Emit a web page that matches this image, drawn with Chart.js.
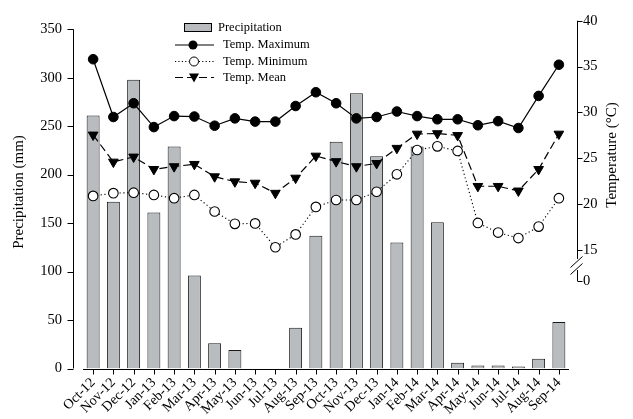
<!DOCTYPE html>
<html>
<head>
<meta charset="utf-8">
<script src="https://cdn.jsdelivr.net/npm/chart.js@4.4.1/dist/chart.umd.min.js"></script>
<style>
  html, body { margin: 0; padding: 0; background: #fff; }
  #wrap { width: 633px; height: 419px; }
</style>
</head>
<body>
<div id="wrap"><canvas id="c" width="633" height="419"></canvas></div>
<script>
// Monthly climate record, Oct 2012 - Sep 2014
const months = ['Oct-12','Nov-12','Dec-12','Jan-13','Feb-13','Mar-13','Apr-13','May-13','Jun-13','Jul-13','Aug-13','Sep-13',
                'Oct-13','Nov-13','Dec-13','Jan-14','Feb-14','Mar-14','Apr-14','May-14','Jun-14','Jul-14','Aug-14','Sep-14'];
const precipitation = [261,172,298,161,229,96,26,19,0,0,42,137,234,284,219,130,229,151,6,3,3,2,10,48];
const tempMax  = [35.8,29.5,31.0,28.4,29.6,29.55,28.55,29.35,29.0,29.0,30.7,32.2,31.0,29.35,29.5,30.1,29.6,29.25,29.25,28.6,29.05,28.3,31.8,35.2];
const tempMin  = [20.9,21.2,21.25,21.0,20.65,21.0,19.2,17.85,17.9,15.3,16.7,19.7,20.45,20.45,21.35,23.25,25.9,26.3,25.8,17.95,16.9,16.3,17.55,20.65];
const tempMean = [27.55,24.6,25.15,23.8,24.1,24.35,23.0,22.45,22.3,21.2,22.85,25.25,24.65,24.1,24.45,26.1,27.65,27.7,27.5,21.95,21.95,21.45,23.8,27.65];

// Axis tick values
const precipTicks = [0,50,100,150,200,250,300,350];
const tempTicks = [15,20,25,30,35,40];
const tempBreakTick = 11.62;   // position that carries the "0" label below the axis break

const FONT = '"Liberation Serif", "Times New Roman", serif';

// Keep the plot area exactly where the layout padding puts it
function noScalePadding(s) {
  s.paddingTop = 0; s.paddingBottom = 0; s.paddingLeft = 0; s.paddingRight = 0;
}

// Draws offset axis lines, tick marks, the axis break, axis titles and the legend
const framePlugin = {
  id: 'frame',
  afterDraw(chart) {
    const ctx = chart.ctx;
    const y = chart.scales.y, y2 = chart.scales.y2, x = chart.scales.x;
    const area = chart.chartArea;
    ctx.save();
    ctx.strokeStyle = '#000';
    ctx.lineWidth = 1;

    // left axis
    const lx = 73.5;
    ctx.beginPath();
    ctx.moveTo(lx, y.getPixelForValue(350));
    ctx.lineTo(lx, y.getPixelForValue(0));
    precipTicks.forEach(v => {
      const py = Math.round(y.getPixelForValue(v)) + 0.5;
      ctx.moveTo(lx - 6, py); ctx.lineTo(lx, py);
    });
    ctx.stroke();

    // bottom axis
    const by = Math.round(y.getPixelForValue(0)) + 0.5;
    ctx.beginPath();
    ctx.moveTo(area.left, by); ctx.lineTo(area.right, by);
    months.forEach((m, i) => {
      const px = Math.round(x.getPixelForValue(i)) + 0.5;
      ctx.moveTo(px, by); ctx.lineTo(px, by + 5);
    });
    ctx.stroke();

    // right axis with break
    const rx = 577.5;
    const top = y2.getPixelForValue(40);
    const p15 = y2.getPixelForValue(15);
    const p0 = y2.getPixelForValue(tempBreakTick);
    ctx.beginPath();
    ctx.moveTo(rx, top); ctx.lineTo(rx, p15 + 9);
    ctx.moveTo(rx, p0 - 11); ctx.lineTo(rx, p0);
    tempTicks.concat([tempBreakTick]).forEach(v => {
      const py = Math.round(y2.getPixelForValue(v)) + 0.5;
      ctx.moveTo(rx, py); ctx.lineTo(rx + 5, py);
    });
    // break slashes
    const mid = (p15 + p0) / 2;
    ctx.moveTo(rx - 7, mid + 2); ctx.lineTo(rx + 5, mid - 9);
    ctx.moveTo(rx - 7, mid + 9); ctx.lineTo(rx + 5, mid - 2);
    ctx.stroke();

    // axis titles
    ctx.fillStyle = '#000';
    ctx.font = '15px ' + FONT;
    ctx.textAlign = 'center';
    ctx.textBaseline = 'middle';
    ctx.save();
    ctx.translate(19, 192);
    ctx.rotate(-Math.PI / 2);
    ctx.fillText('Precipitation (mm)', 0, 0);
    ctx.restore();
    ctx.save();
    ctx.translate(612, 155);
    ctx.rotate(-Math.PI / 2);
    ctx.fillText('Temperature (\u00B0C)', 0, 0);
    ctx.restore();

    // legend
    ctx.font = '12.5px ' + FONT;
    ctx.textAlign = 'left';
    const rows = [27.5, 45, 61.5, 77.5];
    // precipitation swatch
    ctx.fillStyle = '#b9bcbe';
    ctx.fillRect(184.5, rows[0] - 4, 27, 8);
    ctx.strokeRect(184.5, rows[0] - 4, 27, 8);
    ctx.fillStyle = '#000';
    ctx.fillText('Precipitation', 218, rows[0]);
    // max
    ctx.beginPath(); ctx.moveTo(175, rows[1]); ctx.lineTo(214, rows[1]); ctx.stroke();
    ctx.beginPath(); ctx.arc(193, rows[1], 4.5, 0, Math.PI * 2); ctx.fill();
    ctx.fillText('Temp. Maximum', 223, rows[1]);
    // min
    ctx.setLineDash([1.2, 2.2]);
    ctx.beginPath(); ctx.moveTo(175, rows[2]); ctx.lineTo(214, rows[2]); ctx.stroke();
    ctx.setLineDash([]);
    ctx.beginPath(); ctx.arc(194, rows[2], 4.5, 0, Math.PI * 2);
    ctx.fillStyle = '#fff'; ctx.fill(); ctx.stroke();
    ctx.fillStyle = '#000';
    ctx.fillText('Temp. Minimum', 223, rows[2]);
    // mean
    ctx.setLineDash([8, 4]);
    ctx.beginPath(); ctx.moveTo(175, rows[3]); ctx.lineTo(214, rows[3]); ctx.stroke();
    ctx.setLineDash([]);
    ctx.beginPath();
    ctx.moveTo(189, rows[3] - 4); ctx.lineTo(199, rows[3] - 4); ctx.lineTo(194, rows[3] + 5); ctx.closePath();
    ctx.fill();
    ctx.fillText('Temp. Mean', 223, rows[3]);
    ctx.restore();
  }
};

new Chart(document.getElementById('c'), {
  data: {
    labels: months,
    datasets: [
      {
        type: 'line', label: 'Temp. Maximum', data: tempMax, yAxisID: 'y2', order: 1,
        borderColor: '#000', borderWidth: 1.2, tension: 0,
        pointStyle: 'circle', pointRadius: 4.8, pointBackgroundColor: '#000', pointBorderColor: '#000', pointBorderWidth: 1
      },
      {
        type: 'line', label: 'Temp. Minimum', data: tempMin, yAxisID: 'y2', order: 2,
        borderColor: '#000', borderWidth: 1.1, borderDash: [1.2, 2.6], tension: 0,
        pointStyle: 'circle', pointRadius: 4.8, pointBackgroundColor: '#fff', pointBorderColor: '#000', pointBorderWidth: 1.1
      },
      {
        type: 'line', label: 'Temp. Mean', data: tempMean, yAxisID: 'y2', order: 3,
        borderColor: '#000', borderWidth: 1.2, borderDash: [8, 4], tension: 0,
        pointStyle: 'triangle', rotation: 180, pointRotation: 180, pointRadius: 5.6,
        pointBackgroundColor: '#000', pointBorderColor: '#000', pointBorderWidth: 1
      },
      {
        type: 'bar', label: 'Precipitation', data: precipitation, yAxisID: 'y', order: 4,
        backgroundColor: '#b9bcbe', borderColor: '#1a1a1a', borderWidth: 1,
        categoryPercentage: 1, barPercentage: 0.64
      }
    ]
  },
  options: {
    responsive: false,
    animation: false,
    events: [],
    layout: { padding: { top: 20.7, left: 0, right: 0, bottom: 0 } },
    plugins: { legend: { display: false }, tooltip: { enabled: false } },
    scales: {
      x: {
        type: 'category',
        grid: { display: false, drawTicks: false },
        border: { display: false },
        ticks: { color: '#000', font: { family: FONT, size: 14 }, minRotation: 45, maxRotation: 45, padding: 6, autoSkip: false },
        afterFit(s) { s.height = 419 - 368.5; noScalePadding(s); }
      },
      y: {
        position: 'left', min: 0, max: 358.9,
        grid: { display: false, drawTicks: false },
        border: { display: false },
        afterBuildTicks(s) { s.ticks = precipTicks.map(v => ({ value: v })); },
        ticks: { color: '#000', font: { family: FONT, size: 14.5 }, padding: 21 },
        afterFit(s) { s.width = 83; noScalePadding(s); }
      },
      y2: {
        position: 'right', min: 2.08, max: 40,
        grid: { display: false, drawTicks: false },
        border: { display: false },
        afterBuildTicks(s) { s.ticks = [tempBreakTick].concat(tempTicks).map(v => ({ value: v })); },
        ticks: { color: '#000', font: { family: FONT, size: 14.5 }, padding: 14,
                 callback: v => (v < 14 ? '0' : String(v)) },
        afterFit(s) { s.width = 64; noScalePadding(s); }
      }
    }
  },
  plugins: [framePlugin]
});
</script>
</body>
</html>
